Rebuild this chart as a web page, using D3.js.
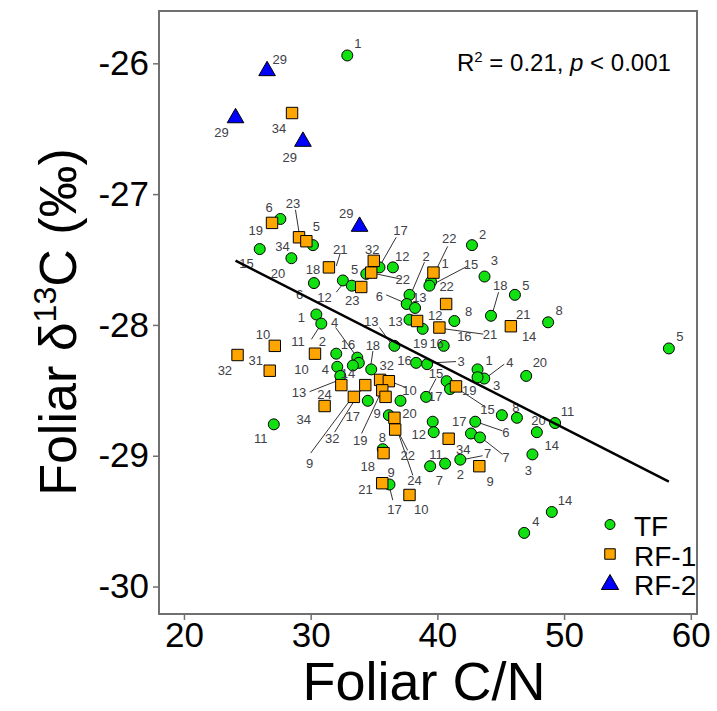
<!DOCTYPE html>
<html><head><meta charset="utf-8">
<script src="https://cdn.jsdelivr.net/npm/d3@7"></script>
<style>body{margin:0;background:#fff}svg{display:block}</style>
</head><body>
<svg id="c" width="717" height="711"></svg>
<script>
// ---- data ----
const tfX = [32.89,27.61,30.18,25.98,28.48,30.26,32.54,30.45,30.84,32.02,32.10,32.34,27.09,35.43,36.49,34.39,33.25,37.80,37.58,38.24,37.80,38.84,36.61,39.50,39.37,42.73,43.72,41.34,40.50,44.23,46.12,48.74,58.27,33.68,33.80,33.33,34.78,34.51,37.09,38.32,39.19,39.11,40.73,41.00,43.17,43.70,43.17,47.01,45.09,46.28,47.85,49.29,47.50,49.03,46.85,42.99,42.65,43.36,39.63,39.71,41.81,40.61,39.43,36.17,35.69,36.22];
const tfY = [-25.94,-27.19,-27.39,-27.42,-27.49,-27.68,-27.66,-27.92,-27.99,-28.22,-28.32,-28.39,-28.76,-27.56,-27.56,-27.61,-27.70,-27.77,-27.84,-27.87,-27.96,-28.03,-28.16,-27.67,-27.70,-27.39,-27.63,-27.97,-28.16,-27.93,-27.77,-27.98,-28.18,-28.25,-28.29,-28.31,-28.34,-28.58,-28.58,-28.29,-28.30,-28.55,-28.43,-28.49,-28.34,-28.41,-28.40,-28.39,-28.69,-28.71,-28.82,-28.75,-28.99,-29.43,-29.59,-28.74,-28.83,-28.86,-28.74,-28.82,-29.03,-29.06,-29.08,-28.69,-28.95,-29.22];
const rf1X = [28.53,26.95,29.08,29.66,31.44,34.98,34.78,33.99,38.40,39.69,40.69,40.16,45.80,27.17,24.23,26.77,30.34,32.42,31.10,35.48,36.17,35.65,35.91,34.31,33.41,41.47,36.61,36.67,35.75,40.89,43.31,35.65,37.80];
const rf1Y = [-26.38,-27.22,-27.33,-27.36,-27.56,-27.51,-27.60,-27.71,-27.97,-27.60,-27.84,-28.02,-28.01,-28.16,-28.23,-28.35,-28.22,-28.46,-28.62,-28.42,-28.43,-28.50,-28.55,-28.46,-28.55,-28.47,-28.71,-28.80,-28.98,-28.87,-29.08,-29.21,-29.30];
const rf2X = [26.56,24.07,29.39,33.86];
const rf2Y = [-26.05,-26.41,-26.59,-27.24];

// site-number annotations (data coordinates)
const labelText = ["1","29","29","34","29","29","6","23","5","19","34","21","15","20","18","6","12","1","4","10","11","2","31","32","10","4","13","24","34","11","32","9","17","32","12","5","22","23","2","6","13","13","13","22","1","15","2","3","22","8","12","16","21","19","16","18","5","21","14","8","5","16","18","14","32","16","3","15","1","4","3","19","10","17","15","8","20","20","11","6","14","7","3","14","4","17","9","20","17","12","19","8","34","7","11","22","18","9","2","7","24","9","21","17","10"];
const labelX = [33.72,27.56,22.97,27.50,28.35,32.81,26.72,28.61,30.45,25.67,27.77,32.34,24.94,27.43,30.18,29.13,31.10,29.27,31.89,26.24,29.00,30.92,25.67,23.23,29.27,31.16,29.08,31.10,29.45,26.06,31.71,29.92,37.09,34.86,37.22,33.46,37.27,33.28,39.11,35.43,38.58,36.69,34.78,40.94,40.61,42.65,43.57,44.49,40.73,42.46,39.84,42.13,44.15,38.64,39.94,44.96,46.98,46.77,47.24,49.61,59.13,32.94,34.91,32.94,36.01,37.40,41.87,39.90,44.09,45.72,44.67,42.52,37.80,39.84,43.96,46.20,48.09,47.98,50.26,45.41,49.03,45.41,47.19,50.08,47.77,33.33,35.25,37.80,41.73,38.53,33.91,35.65,42.05,43.96,39.90,37.66,34.51,36.35,41.81,40.16,38.19,44.17,34.33,36.61,38.72];
const labelY = [-25.85,-25.97,-26.53,-26.50,-26.72,-27.15,-27.10,-27.07,-27.25,-27.28,-27.40,-27.42,-27.53,-27.61,-27.58,-27.77,-27.79,-27.94,-27.98,-28.07,-28.13,-28.13,-28.27,-28.35,-28.34,-28.34,-28.52,-28.53,-28.72,-28.87,-28.87,-29.06,-27.28,-27.42,-27.48,-27.58,-27.65,-27.81,-27.48,-27.78,-27.79,-27.97,-27.97,-27.34,-27.53,-27.54,-27.31,-27.51,-27.71,-27.90,-27.93,-28.09,-28.07,-28.14,-28.14,-27.70,-27.70,-27.92,-28.09,-27.89,-28.09,-28.15,-28.16,-28.37,-28.31,-28.27,-28.28,-28.37,-28.27,-28.29,-28.46,-28.50,-28.50,-28.55,-28.65,-28.63,-28.29,-28.73,-28.66,-28.82,-28.92,-29.01,-29.11,-29.34,-29.50,-28.70,-28.68,-28.68,-28.74,-28.84,-28.88,-28.86,-28.95,-28.98,-28.99,-29.00,-29.08,-29.13,-29.14,-29.19,-29.19,-29.20,-29.26,-29.41,-29.41];
// leader segments [x1,y1,x2,y2]
const leaders = [[28.80,-27.12,29.11,-27.31],[32.34,-27.45,32.02,-27.55],[32.02,-27.75,32.60,-27.68],[30.06,-28.11,30.79,-28.00],[31.97,-28.02,33.46,-28.22],[29.92,-28.51,32.02,-28.43],[30.00,-28.98,33.23,-28.56],[31.89,-28.82,34.02,-28.49],[34.02,-28.83,35.43,-28.54],[36.75,-27.33,35.57,-27.53],[37.14,-27.65,35.17,-27.61],[38.98,-27.52,37.93,-27.76],[35.96,-27.77,37.40,-27.83],[35.43,-28.02,36.48,-28.16],[40.81,-27.40,39.90,-27.58],[42.39,-27.55,39.84,-27.68],[43.62,-28.07,40.55,-28.03],[44.83,-27.75,44.35,-27.91],[34.91,-28.20,34.76,-28.30],[41.47,-28.28,39.63,-28.29],[39.90,-28.41,39.24,-28.53],[43.83,-28.63,41.47,-28.48],[45.28,-28.30,44.04,-28.39],[37.54,-28.48,36.22,-28.43],[45.14,-28.81,43.05,-28.74],[45.14,-28.99,43.44,-28.86],[43.57,-29.00,41.99,-29.03],[37.66,-28.96,36.61,-28.76],[38.06,-29.15,36.75,-28.78],[36.48,-29.34,36.22,-29.24]];

const fitIntercept = -26.32, fitSlope = -0.0494;
const xTicks = [20,30,40,50,60];
const yTicks = [-30,-29,-28,-27,-26];
const groups = ["TF","RF-1","RF-2"];

// ---- drawing ----
const svg = d3.select("#c");
const FONT = "'Liberation Sans', Arial, sans-serif";
const L = 159, R = 697, T = 11, B = 614;
const x = d3.scaleLinear().domain([18.03, 60.49]).range([L, R]);
const y = d3.scaleLinear().domain([-30.21, -25.6]).range([B, T]);

// axes
const gx = svg.append("g").attr("transform", `translate(0,${B})`)
  .call(d3.axisBottom(x).tickValues(xTicks).tickSize(6).tickPadding(2).tickFormat(d => String(d)));
const gy = svg.append("g").attr("transform", `translate(${L},0)`)
  .call(d3.axisLeft(y).tickValues(yTicks).tickSize(6).tickPadding(4).tickFormat(d => String(d)));
[gx, gy].forEach(g => {
  g.select(".domain").remove();
  g.selectAll(".tick line").attr("stroke", "#707070").attr("stroke-width", 1.5);
  g.selectAll(".tick text").attr("font-family", FONT).attr("font-size", 35).attr("fill", "#000");
});

// border
svg.append("rect").attr("x", L).attr("y", T).attr("width", R - L).attr("height", B - T)
  .attr("fill", "none").attr("stroke", "#707070").attr("stroke-width", 2);

// leaders
svg.append("g").selectAll("line").data(leaders).join("line")
  .attr("x1", d => x(d[0])).attr("y1", d => y(d[1]))
  .attr("x2", d => x(d[2])).attr("y2", d => y(d[3]))
  .attr("stroke", "#333").attr("stroke-width", 1);

// points
const tf = tfX.map((v, i) => [v, tfY[i]]);
const rf1 = rf1X.map((v, i) => [v, rf1Y[i]]);
const rf2 = rf2X.map((v, i) => [v, rf2Y[i]]);
const sq = d3.symbol().type(d3.symbolSquare).size(130);
const tri = d3.symbol().type(d3.symbolTriangle).size(120);

svg.append("g").selectAll("circle").data(tf).join("circle")
  .attr("cx", d => x(d[0])).attr("cy", d => y(d[1])).attr("r", 5.5)
  .attr("fill", "#11e011").attr("stroke", "#000").attr("stroke-width", 1);
svg.append("g").selectAll("path").data(rf1).join("path")
  .attr("d", sq).attr("transform", d => `translate(${x(d[0])},${y(d[1])})`)
  .attr("fill", "#ffa500").attr("stroke", "#000").attr("stroke-width", 1);
svg.append("g").selectAll("path").data(rf2).join("path")
  .attr("d", tri).attr("transform", d => `translate(${x(d[0])},${y(d[1]) + 1})`)
  .attr("fill", "#0000ff").attr("stroke", "#000").attr("stroke-width", 1);

// labels
svg.append("g").selectAll("text").data(labelText).join("text")
  .attr("x", (d, i) => x(labelX[i])).attr("y", (d, i) => y(labelY[i]))
  .attr("text-anchor", "middle").attr("dominant-baseline", "central")
  .attr("font-family", FONT).attr("font-size", 13).attr("fill", "#404048")
  .text(d => d);

// regression line
const allX = tfX.concat(rf1X, rf2X);
const x0 = d3.min(allX), x1 = d3.max(allX);
svg.append("line")
  .attr("x1", x(x0)).attr("y1", y(fitIntercept + fitSlope * x0))
  .attr("x2", x(x1)).attr("y2", y(fitIntercept + fitSlope * x1))
  .attr("stroke", "#000").attr("stroke-width", 2.5);

// stats text
const st = svg.append("text").attr("x", 457).attr("y", 71)
  .attr("font-family", FONT).attr("font-size", 24).attr("fill", "#000");
st.append("tspan").text("R");
st.append("tspan").attr("font-size", 15).attr("dy", -9).text("2");
st.append("tspan").attr("dy", 9).text(" = 0.21, ");
st.append("tspan").attr("font-style", "italic").text("p");
st.append("tspan").text(" < 0.001");

// legend
const lg = svg.append("g");
const ly = [524.5, 554, 583.5];
lg.append("circle").attr("cx", 610).attr("cy", ly[0]).attr("r", 5)
  .attr("fill", "#11e011").attr("stroke", "#000");
lg.append("path").attr("d", d3.symbol().type(d3.symbolSquare).size(110)).attr("transform", `translate(610,${ly[1]})`)
  .attr("fill", "#ffa500").attr("stroke", "#000");
lg.append("path").attr("d", d3.symbol().type(d3.symbolTriangle).size(130)).attr("transform", `translate(610,${ly[2] + 1})`)
  .attr("fill", "#0000ff").attr("stroke", "#000");
lg.selectAll("text").data(groups).join("text")
  .attr("x", 634).attr("y", (d, i) => ly[i] + 2).attr("dominant-baseline", "central")
  .attr("font-family", FONT).attr("font-size", 28).attr("fill", "#000").text(d => d);

// axis titles
svg.append("text").attr("x", 424).attr("y", 700).attr("text-anchor", "middle")
  .attr("font-family", FONT).attr("font-size", 54).attr("fill", "#000").text("Foliar C/N");
const yt = svg.append("text").attr("transform", "translate(76,322) rotate(-90)").attr("text-anchor", "middle")
  .attr("font-family", FONT).attr("font-size", 52).attr("fill", "#000");
yt.append("tspan").text("Foliar δ");
yt.append("tspan").attr("font-size", 32).attr("dy", -20).text("13");
yt.append("tspan").attr("dy", 20).text("C (‰)");
</script>
</body></html>
